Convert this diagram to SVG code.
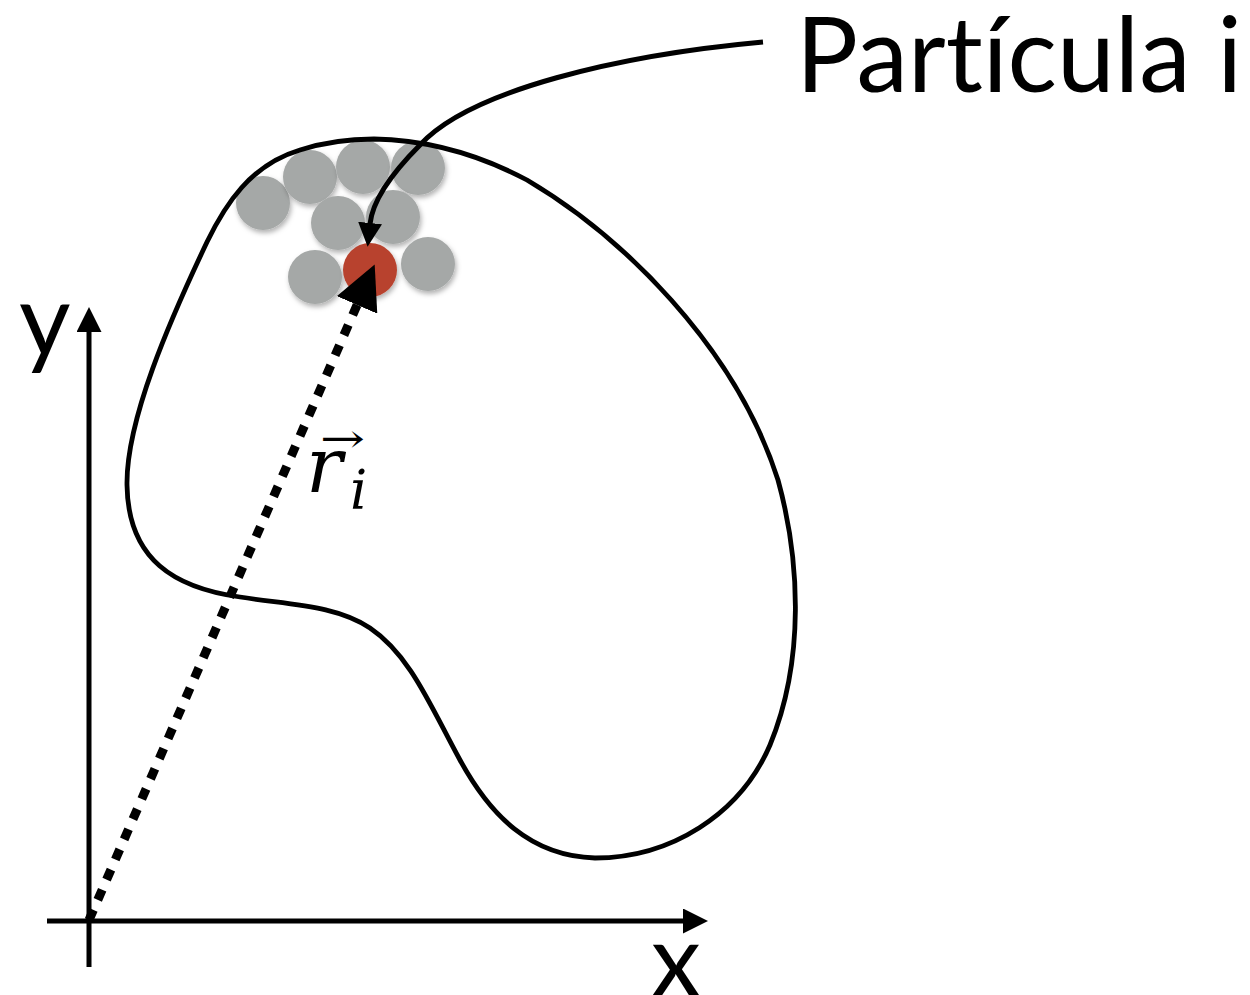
<svg xmlns="http://www.w3.org/2000/svg" width="1250" height="995" viewBox="0 0 1250 995">
<style>
.ln{fill:none;stroke:#000;stroke-width:5}
.blob{fill:none;stroke:#000;stroke-width:4.8}
.p{fill:#a5a8a7;filter:url(#sh)}
.red{fill:#b8432e;filter:url(#sh)}
.lbl{font-family:Lato,"Open Sans","Liberation Sans",sans-serif;fill:#000;font-variant-ligatures:none;font-feature-settings:"liga" 0,"clig" 0}
.math{font-family:"DejaVu Serif","Liberation Serif",serif;font-style:italic;fill:#000}
</style>
<defs>
<filter id="sh" x="-30%" y="-30%" width="160%" height="170%">
<feDropShadow dx="1.5" dy="3" stdDeviation="2.5" flood-color="#000" flood-opacity="0.3"/>
</filter>
<marker id="axh" markerUnits="userSpaceOnUse" viewBox="0 0 25 25" refX="1" refY="12.5" markerWidth="25" markerHeight="25" orient="auto">
<path d="M0,0 L25,12.5 L0,25 Z" fill="#000"/>
</marker>
<marker id="cah" markerUnits="userSpaceOnUse" viewBox="0 0 24 24" refX="1" refY="12" markerWidth="24" markerHeight="24" orient="auto">
<path d="M0,0 L24,12 L0,24 Z" fill="#000"/>
</marker>
<marker id="bigh" markerUnits="userSpaceOnUse" viewBox="0 0 44 44" refX="1" refY="22" markerWidth="44" markerHeight="44" orient="auto">
<path d="M0,0 L44,22 L0,44 Z" fill="#000"/>
</marker>
</defs>

<g id="particles">
<circle class="p" cx="263" cy="203" r="27"/>
<circle class="p" cx="310" cy="177" r="27"/>
<circle class="p" cx="363" cy="167" r="27"/>
<circle class="p" cx="418" cy="168" r="27"/>
<circle class="p" cx="338" cy="223" r="27"/>
<circle class="p" cx="393" cy="217" r="27"/>
<circle class="p" cx="315" cy="277" r="27"/>
<circle class="p" cx="428" cy="264" r="27"/>
</g>
<g id="particle-i">
<circle class="red" cx="370" cy="270" r="27"/>
</g>

<g id="body">
<path class="blob" d="M374,139 C430,140 480,155 527,180 C620,235 735,345 778,480 C800,560 805,660 770,745 C740,815 670,858 595,858 C530,856 490,815 460,760 C430,705 410,655 370,628 C335,605 290,605 240,597 C175,588 128,560 127,485 C126,420 170,320 207,242 C225,205 250,165 300,150 C325,142 350,139 374,139 Z"/>
</g>

<g id="connectors">
<line id="y-axis" class="ln" x1="89" y1="967" x2="89" y2="331" marker-end="url(#axh)"/>
<line id="x-axis" class="ln" x1="47" y1="921" x2="684" y2="921" marker-end="url(#axh)"/>
<line id="r-vector" x1="89" y1="920" x2="357.5" y2="304" stroke="#000" stroke-width="9" stroke-dasharray="11 11" marker-end="url(#bigh)"/>
<path id="label-arrow" class="ln" d="M763,42 C620,55 470,90 420,145 C385,180 372,205 370,224" marker-end="url(#cah)"/>
</g>

<g id="labels">
<text class="lbl" x="796" y="92" font-size="104" textLength="446" lengthAdjust="spacingAndGlyphs">Partícula i</text>
<text class="lbl" x="19" y="356" font-size="100">y</text>
<text class="lbl" x="651" y="996" font-size="100">x</text>
<g id="r-label">
<text class="math" x="306" y="492" font-size="76">r</text>
<text class="math" x="350" y="509" font-size="54">i</text>
<text x="320" y="452" font-size="40" textLength="45" lengthAdjust="spacingAndGlyphs" font-family="'DejaVu Serif','Liberation Serif',serif">→</text>
</g>
</g>
</svg>
